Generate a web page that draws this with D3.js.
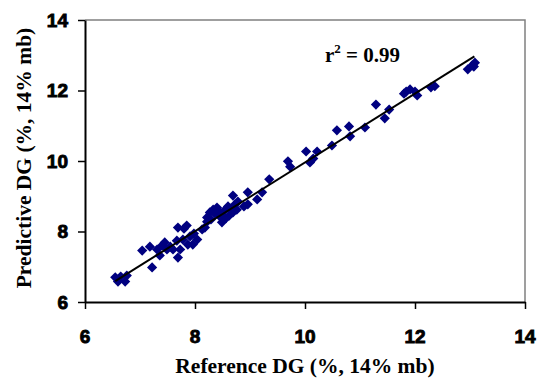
<!DOCTYPE html>
<html>
<head>
<meta charset="utf-8">
<script src="https://cdn.jsdelivr.net/npm/d3@7"></script>
<style>
  html, body { margin: 0; padding: 0; background: #fff; }
  svg { display: block; }
</style>
</head>
<body>
<div id="chart"></div>
<script>
// reference DG vs predicted DG (%, 14% mb)
const refDG = [
  6.55, 6.60, 6.73, 6.76, 6.65, 7.04, 7.22, 7.18, 7.31, 7.40,
  7.45, 7.36, 7.49, 7.55, 7.60, 7.67, 7.69, 7.73, 7.69, 7.78,
  7.85, 7.87, 7.91, 7.96, 8.04, 7.98, 7.80, 8.18, 8.22, 8.22,
  8.27, 8.33, 8.40, 8.45, 8.49, 8.55, 8.60, 8.62, 8.69, 8.69,
  8.73, 8.76, 8.78, 8.89, 8.96, 8.96, 9.13, 9.22, 9.35, 8.36,
  8.44, 8.51, 8.29, 8.56, 8.13, 8.65, 9.69, 9.73, 10.02, 10.09,
  10.15, 10.22, 10.49, 10.58, 10.80, 10.82, 11.09, 11.29, 11.45, 11.53,
  11.80, 11.91, 12.00, 12.04, 12.29, 12.36, 12.96, 13.04, 13.09, 13.07,
  11.84
];
const predDG = [
  6.70, 6.58, 6.58, 6.75, 6.72, 7.46, 6.98, 7.57, 7.49, 7.60,
  7.69, 7.32, 7.49, 7.57, 7.49, 7.74, 8.11, 7.49, 7.26, 7.77,
  8.17, 7.63, 7.86, 7.63, 7.77, 7.94, 8.08, 8.11, 8.40, 8.28,
  8.54, 8.62, 8.68, 8.43, 8.26, 8.62, 8.71, 8.45, 8.54, 9.02,
  8.77, 8.62, 8.85, 8.71, 9.11, 8.77, 8.91, 9.11, 9.48, 8.51,
  8.57, 8.45, 8.34, 8.37, 8.06, 8.65, 9.99, 9.84, 10.27, 9.96,
  10.07, 10.27, 10.44, 10.87, 10.98, 10.70, 10.95, 11.60, 11.21, 11.46,
  11.91, 12.03, 11.97, 11.86, 12.09, 12.12, 12.60, 12.71, 12.79, 12.68,
  11.97
];

// linear fit shown on the chart
const fitSlope = 0.976;
const fitIntercept = 0.2;
const fitRange = [6.55, 13.08];
const r2Text = "0.99";

const xTicks = [6, 8, 10, 12, 14];
const yTicks = [6, 8, 10, 12, 14];

const width = 539, height = 386;
const svg = d3.select("#chart").append("svg")
  .attr("width", width)
  .attr("height", height);

const x = d3.scaleLinear().domain([6, 14]).range([85, 525]);
const y = d3.scaleLinear().domain([6, 14]).range([302, 20]);

// grey frame on top/right
svg.append("path")
  .attr("d", `M${x(6)},${y(14)}H${x(14)}V${y(6)}`)
  .attr("fill", "none")
  .attr("stroke", "#808080")
  .attr("stroke-width", 1.5);

const xAxis = svg.append("g")
  .attr("transform", `translate(0,${y(6)})`)
  .call(d3.axisBottom(x).tickValues(xTicks).tickSize(7).tickSizeOuter(0).tickFormat(""));
const yAxis = svg.append("g")
  .attr("transform", `translate(${x(6)},0)`)
  .call(d3.axisLeft(y).tickValues(yTicks).tickSize(7).tickSizeOuter(0).tickFormat(""));

[xAxis, yAxis].forEach(g => {
  g.select(".domain").attr("stroke", "#000").attr("stroke-width", 2);
  g.selectAll(".tick line").attr("stroke", "#000").attr("stroke-width", 1.5);
});

// tick labels (heavy sans; stroke thickens them to match the chunky originals)
const tickFont = "'Liberation Sans', Arial, sans-serif";
const tickLabel = sel => sel
  .attr("font-family", tickFont)
  .attr("font-weight", 700)
  .attr("font-size", 19)
  .attr("fill", "#000")
  .attr("stroke", "#000")
  .attr("stroke-width", 0.9)
  .attr("paint-order", "stroke");

svg.append("g")
  .selectAll("text")
  .data(xTicks)
  .join("text")
  .attr("x", d => x(d))
  .attr("y", y(6) + 41)
  .attr("text-anchor", "middle")
  .call(tickLabel)
  .text(d => d);
svg.append("g")
  .selectAll("text")
  .data(yTicks)
  .join("text")
  .attr("x", x(6) - 17)
  .attr("y", d => y(d))
  .attr("dy", "0.36em")
  .attr("text-anchor", "end")
  .call(tickLabel)
  .text(d => d);

// points
svg.append("g")
  .selectAll("path")
  .data(refDG.map((d, i) => [d, predDG[i]]))
  .join("path")
  .attr("transform", d => `translate(${x(d[0])},${y(d[1])}) rotate(45)`)
  .attr("d", d3.symbol(d3.symbolSquare, 52))
  .attr("fill", "#000080");

// fit line
svg.append("line")
  .attr("x1", x(fitRange[0]))
  .attr("y1", y(fitSlope * fitRange[0] + fitIntercept))
  .attr("x2", x(fitRange[1]))
  .attr("y2", y(fitSlope * fitRange[1] + fitIntercept))
  .attr("stroke", "#000")
  .attr("stroke-width", 2);

const titleFont = "'Liberation Serif', 'Times New Roman', serif";

const r2 = svg.append("text")
  .attr("x", 325)
  .attr("y", 62)
  .attr("font-family", titleFont)
  .attr("font-weight", 700)
  .attr("font-size", 21);
r2.append("tspan").text("r");
r2.append("tspan").attr("dy", -9).attr("font-size", 13).text("2");
r2.append("tspan").attr("dy", 9).text(" = " + r2Text);

svg.append("text")
  .attr("x", 305)
  .attr("y", 373)
  .attr("text-anchor", "middle")
  .attr("font-family", titleFont)
  .attr("font-weight", 700)
  .attr("font-size", 21.5)
  .text("Reference DG (%, 14% mb)");

svg.append("text")
  .attr("transform", `translate(31,158) rotate(-90)`)
  .attr("text-anchor", "middle")
  .attr("font-family", titleFont)
  .attr("font-weight", 700)
  .attr("font-size", 21.5)
  .text("Predictive DG (%, 14% mb)");
</script>
</body>
</html>
